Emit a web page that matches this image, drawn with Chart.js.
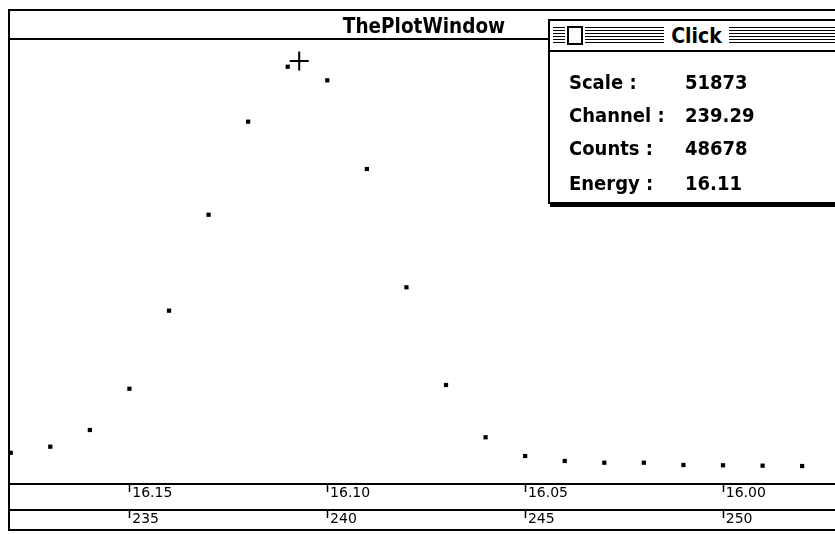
<!DOCTYPE html>
<html>
<head>
	<meta charset="utf-8">
	<title>ThePlotWindow</title>
	<script src="https://cdn.jsdelivr.net/npm/chart.js@4.4.1/dist/chart.umd.min.js"></script>
	<style>
		body { margin: 0; background: #fff; }
		#screen { position: relative; width: 835px; height: 534px; overflow: hidden; font-family: "DejaVu Sans", sans-serif; }
		#plot { position: absolute; left: 0; top: 0; }
		.frame { position: absolute; left: 8px; top: 9px; width: 900px; height: 518px; border: 2px solid #000; border-right: none; }
		.titleline { position: absolute; left: 10px; top: 38px; width: 900px; height: 2px; background: #000; }
		.wtitle { position: absolute; left: 8px; top: 14px; width: 832px; text-align: center; font-weight: bold; font-stretch: condensed; font-size: 20.5px; line-height: 24px; }
		.click { position: absolute; left: 548px; top: 19px; width: 320px; height: 181px; border: 2px solid #000; background: #fff; box-shadow: 2px 3px 0 #000; }
		.click .bar { position: absolute; left: 0; top: 0; width: 100%; height: 29px; border-bottom: 2px solid #000; }
		.stripes { position: absolute; top: 6px; height: 17px; background: repeating-linear-gradient(to bottom, #000 0 1px, transparent 1px 3px); }
		.closebox { position: absolute; left: 17px; top: 5px; width: 12px; height: 15px; border: 2px solid #000; background: #fff; }
		.ctitle { position: absolute; left: 114px; top: 3px; width: 65px; text-align: center; font-weight: bold; font-stretch: condensed; font-size: 21px; line-height: 24px; background: #fff; }
		.row { position: absolute; font-weight: bold; font-stretch: condensed; font-size: 20px; line-height: 22px; }
	</style>
</head>
<body>
	<div id="screen">
		<canvas id="plot" width="835" height="534"></canvas>
		<div class="frame"></div>
		<div class="titleline"></div>
		<div class="wtitle">ThePlotWindow</div>

		<div class="click">
			<div class="bar">
				<div class="stripes" style="left:3px; width:12px;"></div>
				<div class="closebox"></div>
				<div class="stripes" style="left:35px; width:290px;"></div>
				<div class="ctitle">Click</div>
			</div>
			<div id="readout"></div>
		</div>
	</div>

	<script>
		// datos del espectro (canal -> cuentas)
		var channels = [232, 233, 234, 235, 236, 237, 238, 239, 240, 241, 242, 243, 244, 245, 246, 247, 248, 249, 250, 251, 252];
		var counts = [3650, 4360, 6310, 11130, 20250, 31460, 42330, 48750, 47160, 36800, 22980, 11570, 5460, 3270, 2690, 2490, 2490, 2220, 2190, 2140, 2100];

		// ticks de los dos ejes
		var energyTicks = [16.15, 16.10, 16.05, 16.00];
		var channelTicks = [235, 240, 245, 250];

		// ventana "Click"
		var readoutLabels = ["Scale :", "Channel :", "Counts :", "Energy :"];
		var readoutValues = ["51873", "239.29", "48678", "16.11"];

		// cursor (+)
		var cursorChannel = 239.29;
		var cursorCounts = 49420;

		var scaleMax = 51873;
		var chMin = 231.982, chMax = 252.83;
		// calibracion: 16.15 en canal 235, -0.01 por canal
		var e0 = 16.15, c0 = 235, slope = -0.01;
		function energyOf(ch) { return e0 + (ch - c0) * slope; }

		var rows = [61, 94, 127, 162];
		var html = "";
		readoutLabels.forEach(function (lab, i) {
			html += '<div class="row" style="left:19px; top:' + (rows[i] - 11) + 'px;">' + lab + '</div>';
			html += '<div class="row" style="left:135px; top:' + (rows[i] - 11) + 'px;">' + readoutValues[i] + '</div>';
		});
		document.getElementById('readout').innerHTML = html;

		function axisStyle(tickValues, fmt, h, w) {
			return {
				type: 'linear',
				position: 'bottom',
				weight: w,
				grid: { drawOnChartArea: false, drawTicks: true, tickLength: 8, color: '#000', tickWidth: 1.5 },
				border: { display: true, color: '#000', width: 2 },
				ticks: {
					align: 'start',
					padding: -7.4,
					autoSkip: false,
					maxRotation: 0,
					color: '#000',
					font: { family: 'DejaVu Sans', size: 14 },
					callback: function (v) { return '\u2009' + fmt(v); }
				},
				afterBuildTicks: function (s) { s.ticks = tickValues.map(function (v) { return { value: v }; }); },
				afterFit: function (s) {
					s.height = h;
					s.paddingLeft = 0;
					s.paddingRight = 0;
				}
			};
		}

		var xCh = axisStyle(channelTicks, function (v) { return String(v); }, 21, 1);
		xCh.min = chMin; xCh.max = chMax;

		var xEn = axisStyle(energyTicks, function (v) { return v.toFixed(2); }, 26, 0);
		xEn.reverse = true;
		xEn.min = energyOf(chMax); xEn.max = energyOf(chMin);

		var ctx = document.getElementById('plot').getContext('2d');
		window.plot = new Chart(ctx, {
			type: 'scatter',
			data: {
				datasets: [{
					data: channels.map(function (c, i) { return { x: c, y: counts[i] }; }),
					pointStyle: 'rect',
					pointRadius: 3,
					pointBorderWidth: 0,
					pointBackgroundColor: '#000'
				}, {
					data: [{ x: cursorChannel, y: cursorCounts }],
					pointStyle: 'cross',
					pointRadius: 9.5,
					pointBorderWidth: 2,
					pointBorderColor: '#000'
				}]
			},
			options: {
				responsive: false,
				animation: false,
				events: [],
				layout: { autoPadding: false, padding: { left: 10, top: 40, right: 0, bottom: 3 } },
				plugins: { legend: { display: false }, tooltip: { enabled: false } },
				scales: {
					y: { display: false, min: 0, max: scaleMax },
					x: xCh,
					en: xEn
				}
			}
		});
	</script>
</body>
</html>
